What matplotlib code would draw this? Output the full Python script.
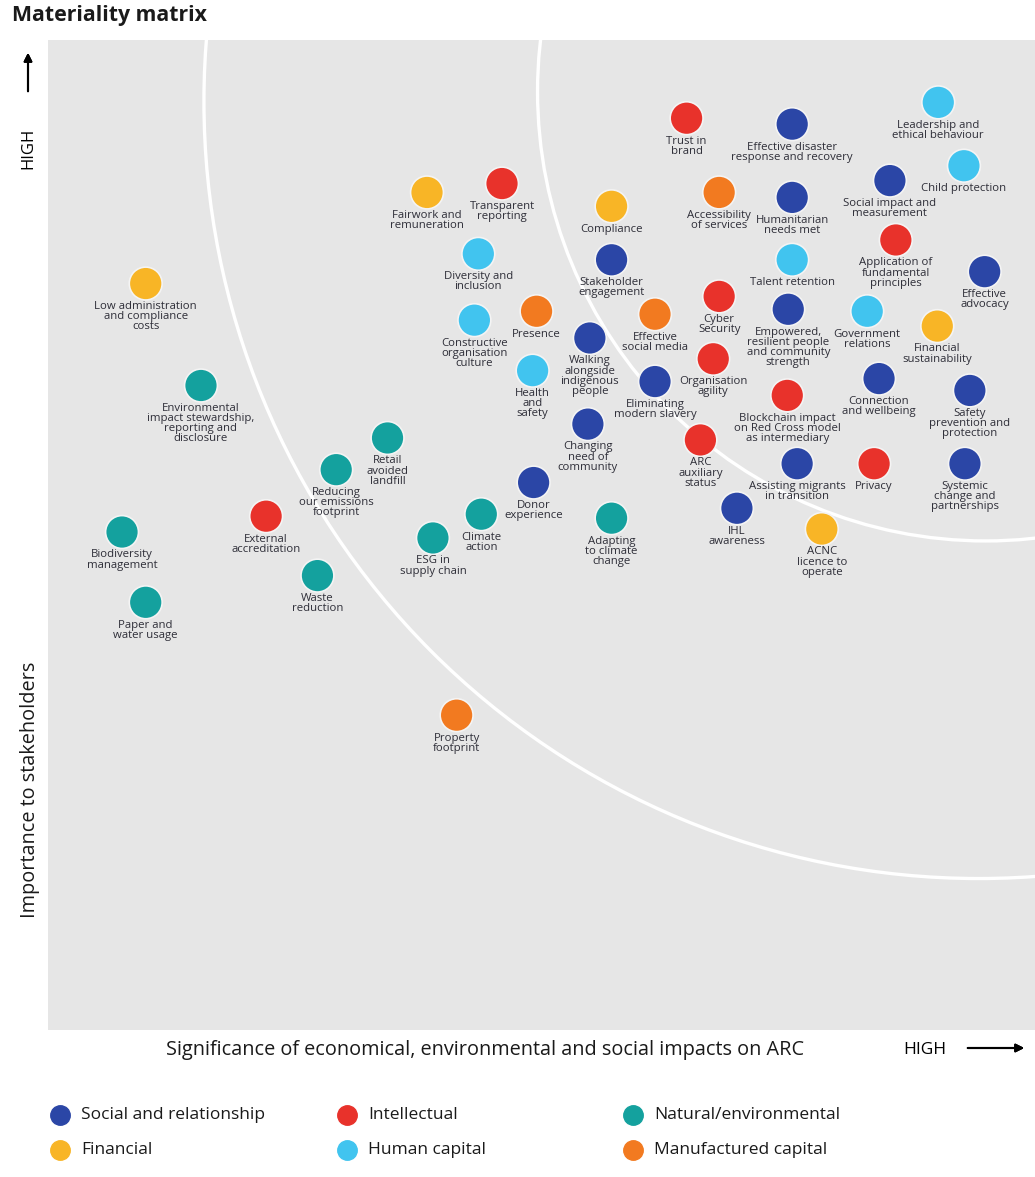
import matplotlib.pyplot as plt
from matplotlib.patches import Circle
from matplotlib.lines import Line2D

plt.rcParams['font.family'] = ['Open Sans', 'DejaVu Sans']

# materiality topics: impact on ARC (x) vs importance to stakeholders (y), 0-100 scale
topics = [
    'Trust in\nbrand', 'Effective disaster\nresponse and recovery', 'Leadership and\nethical behaviour',
    'Child protection', 'Social impact and\nmeasurement', 'Accessibility\nof services',
    'Humanitarian\nneeds met', 'Application of\nfundamental\nprinciples', 'Effective\nadvocacy',
    'Talent retention', 'Cyber\nSecurity', 'Empowered,\nresilient people\nand community\nstrength',
    'Government\nrelations', 'Financial\nsustainability', 'Organisation\nagility',
    'Connection\nand wellbeing', 'Safety\nprevention and\nprotection',
    'Blockchain impact\non Red Cross model\nas intermediary', 'ARC\nauxiliary\nstatus',
    'Assisting migrants\nin transition', 'Privacy', 'Systemic\nchange and\npartnerships',
    'IHL\nawareness', 'ACNC\nlicence to\noperate', 'Fairwork and\nremuneration',
    'Transparent\nreporting', 'Compliance', 'Diversity and\ninclusion', 'Stakeholder\nengagement',
    'Constructive\norganisation\nculture', 'Presence', 'Effective\nsocial media',
    'Walking\nalongside\nindigenous\npeople', 'Health\nand\nsafety', 'Eliminating\nmodern slavery',
    'Changing\nneed of\ncommunity', 'Donor\nexperience', 'Climate\naction', 'ESG in\nsupply chain',
    'Adapting\nto climate\nchange', 'Retail\navoided\nlandfill', 'Reducing\nour emissions\nfootprint',
    'External\naccreditation', 'Waste\nreduction', 'Biodiversity\nmanagement', 'Paper and\nwater usage',
    'Low administration\nand compliance\ncosts',
    'Environmental\nimpact stewardship,\nreporting and\ndisclosure', 'Property\nfootprint',
]
impact = [
    64.7, 75.4, 90.2, 92.8, 85.3, 68.0, 75.4, 85.9, 94.9, 75.4, 68.0, 75.0, 83.0, 90.1, 67.4,
    84.2, 93.4, 74.9, 66.1, 75.9, 83.7, 92.9, 69.8, 78.4, 38.4, 46.0, 57.1, 43.6, 57.1, 43.2,
    49.5, 61.5, 54.9, 49.1, 61.5, 54.7, 49.2, 43.9, 39.0, 57.1, 34.4, 29.2, 22.1, 27.3, 7.5,
    9.9, 9.9, 15.5, 41.4,
]
importance = [
    92.1, 91.5, 93.7, 87.3, 85.8, 84.6, 84.1, 79.8, 76.6, 77.8, 74.1, 72.8, 72.6, 71.1, 67.8,
    65.8, 64.6, 64.1, 59.6, 57.2, 57.2, 57.2, 52.7, 50.6, 84.6, 85.5, 83.2, 78.4, 77.8, 71.7,
    72.6, 72.3, 69.9, 66.6, 65.5, 61.2, 55.3, 52.1, 49.7, 51.7, 59.8, 56.6, 51.9, 45.9, 50.3,
    43.2, 75.4, 65.1, 31.8,
]
capital = [
    'Intellectual', 'Social and relationship', 'Human capital', 'Human capital', 'Social and relationship',
    'Manufactured capital', 'Social and relationship', 'Intellectual', 'Social and relationship',
    'Human capital', 'Intellectual', 'Social and relationship', 'Human capital', 'Financial',
    'Intellectual', 'Social and relationship', 'Social and relationship', 'Intellectual', 'Intellectual',
    'Social and relationship', 'Intellectual', 'Social and relationship', 'Social and relationship',
    'Financial', 'Financial', 'Intellectual', 'Financial', 'Human capital', 'Social and relationship',
    'Human capital', 'Manufactured capital', 'Manufactured capital', 'Social and relationship',
    'Human capital', 'Social and relationship', 'Social and relationship', 'Social and relationship',
    'Natural/environmental', 'Natural/environmental', 'Natural/environmental', 'Natural/environmental',
    'Natural/environmental', 'Intellectual', 'Natural/environmental', 'Natural/environmental',
    'Natural/environmental', 'Financial', 'Natural/environmental', 'Manufactured capital',
]

legend_rows = [['Social and relationship', 'Intellectual', 'Natural/environmental'],
               ['Financial', 'Human capital', 'Manufactured capital']]
colors = {
    'Social and relationship': '#2b46a6',
    'Intellectual': '#e8322b',
    'Natural/environmental': '#14a19e',
    'Financial': '#f8b526',
    'Human capital': '#41c4ef',
    'Manufactured capital': '#f27a20',
}

W, H = 1035, 1177
fig = plt.figure(figsize=(W / 100, H / 100), dpi=100)
ax = fig.add_axes([48 / W, 147 / H, 987 / W, 990 / H])
ax.set_facecolor('#e6e6e6')
ax.set_xlim(0, 100)
ax.set_ylim(0, 100)
ax.set_xticks([])
ax.set_yticks([])
for s in ax.spines.values():
    s.set_visible(False)

# white materiality bands curving around the top-right corner
ax.add_patch(Circle((94.3, 93.8), 78.5, fill=False, ec='white', lw=2.4, zorder=1))
ax.add_patch(Circle((95.0, 94.8), 45.4, fill=False, ec='white', lw=2.4, zorder=1))

ax.scatter(impact, importance, s=560, c=[colors[c] for c in capital],
           edgecolors='#f4f4f4', linewidths=1.2, zorder=3)
for t, x, y in zip(topics, impact, importance):
    ax.annotate(t, (x, y), xytext=(0, -12.5), textcoords='offset points',
                ha='center', va='top', fontsize=8.2, linespacing=0.9,
                color='#2e2e38', zorder=4)

# titles and axis captions
fig.text(12 / W, 1 - 16 / H, 'Materiality matrix', fontsize=15.3, fontweight='bold',
         ha='left', va='center', color='#1a1a1a')
fig.text(28 / W, 1 - 148 / H, 'HIGH', rotation=90, fontsize=12, ha='center', va='center')
fig.text(30 / W, 1 - 790 / H, 'Importance to stakeholders', rotation=90, fontsize=14.3,
         ha='center', va='center', color='#1a1a1a')
fig.text(485 / W, 1 - 1050 / H,
         'Significance of economical, environmental and social impacts on ARC',
         fontsize=14.3, ha='center', va='center', color='#1a1a1a')
fig.text(925 / W, 1 - 1050 / H, 'HIGH', fontsize=12.5, ha='center', va='center')
arrow = dict(arrowstyle='-|>', color='black', lw=1.5, mutation_scale=12)
fig.add_artist(plt.annotate('', xy=(28 / W, 1 - 50 / H), xytext=(28 / W, 1 - 94 / H),
                            xycoords='figure fraction', arrowprops=arrow))
fig.add_artist(plt.annotate('', xy=(1027 / W, 1 - 1048 / H), xytext=(965 / W, 1 - 1048 / H),
                            xycoords='figure fraction', arrowprops=arrow))

# legend
col_x = [60, 347, 633]
row_y = [1115, 1150]
for row, ry in zip(legend_rows, row_y):
    for name, cx in zip(row, col_x):
        fig.add_artist(Line2D([cx / W], [1 - ry / H], marker='o', markersize=14,
                              color=colors[name], linestyle='none',
                              transform=fig.transFigure))
        fig.text((cx + 21) / W, 1 - ry / H, name, fontsize=12.5, ha='left', va='center',
                 color='#1a1a1a')

fig.savefig('out.png', dpi=100, facecolor='white')
